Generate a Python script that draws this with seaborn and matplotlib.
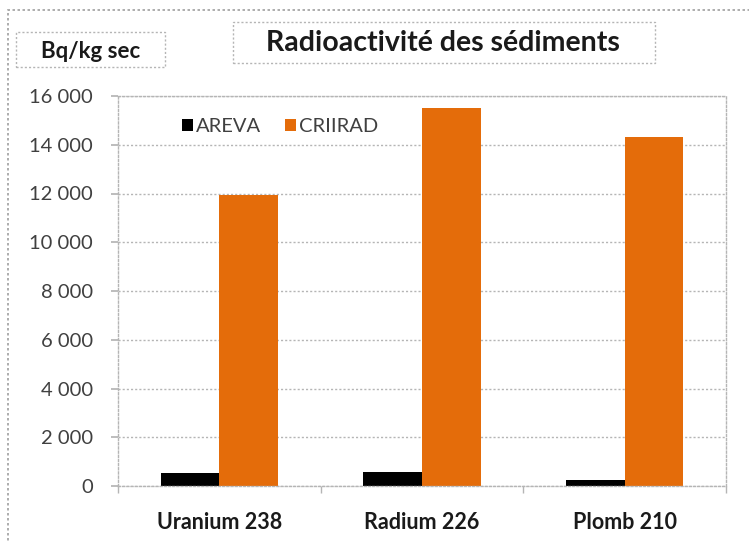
import numpy as np
import pandas as pd
import matplotlib
matplotlib.use('Agg')
import matplotlib.pyplot as plt
import seaborn as sns
from matplotlib.patches import Rectangle
from matplotlib.ticker import FuncFormatter, MultipleLocator, FixedLocator

# Données (Bq/kg sec)
elements = ['Uranium 238', 'Radium 226', 'Plomb 210']
sources = ['AREVA', 'CRIIRAD']
areva = [550, 590, 250]
criirad = [11950, 15500, 14300]
couleurs = ['#000000', '#E46C0A']

df = pd.DataFrame({
    'Element': elements * 2,
    'Source': ['AREVA'] * 3 + ['CRIIRAD'] * 3,
    'Valeur': areva + criirad,
})

sns.set_theme(style='white')
plt.rcParams['font.family'] = ['Lato', 'DejaVu Sans']

fig = plt.figure(figsize=(7.49, 5.43), dpi=100)
ax = fig.add_axes([118/749, 1-486/543, 608/749, 390/543])

sns.barplot(data=df, x='Element', y='Valeur', hue='Source', palette=couleurs,
            width=0.58, ax=ax, saturation=1, linewidth=0)

ax.set_ylim(0, 16000)
ax.set_xlim(-0.5, 2.5)
ax.yaxis.set_major_locator(MultipleLocator(2000))
ax.yaxis.set_major_formatter(FuncFormatter(lambda v, p: '{:,}'.format(int(v)).replace(',', ' ')))
ax.grid(axis='y', color='#b5b5b5', linestyle=(0, (1.5, 1.5)), linewidth=1)
ax.set_axisbelow(True)
for s in ax.spines.values():
    s.set_color('#b5b5b5')
    s.set_linestyle((0, (1.5, 1.5)))
    s.set_linewidth(1)
ax.set_xlabel('')
ax.set_ylabel('')

ax.tick_params(axis='y', which='major', left=True, length=5, color='#b5b5b5',
               labelsize=14.5, labelcolor='#404040', pad=13)
ax.tick_params(axis='x', which='major', bottom=False, labelsize=15.5, pad=13)
ax.xaxis.set_minor_locator(FixedLocator([-0.5, 0.5, 1.5, 2.5]))
ax.tick_params(axis='x', which='minor', bottom=True, length=5, color='#b5b5b5')
for lab in ax.get_xticklabels():
    lab.set_fontweight('bold')
    lab.set_color('#1a1a1a')

leg = ax.legend(loc='upper left', bbox_to_anchor=(0.075, 0.99), ncol=2, frameon=False,
                fontsize=14.5, handlelength=0.55, handleheight=0.55, handletextpad=0.15,
                columnspacing=1.2, labelcolor='#404040')

# cadre extérieur et boîtes de texte
fig.patches.append(Rectangle((8/749, -0.1), 1.2, 1 - 10/543 + 0.1, transform=fig.transFigure,
                             fill=False, ec='#a0a0a0', ls=(0, (1.5, 1.5)), lw=1.2))
fig.patches.append(Rectangle((233/749, 1-63/543), 422/749, 41/543, transform=fig.transFigure,
                             fill=False, ec='#b5b5b5', ls=(0, (1.5, 1.5)), lw=1))
fig.patches.append(Rectangle((16/749, 1-67/543), 149/749, 35/543, transform=fig.transFigure,
                             fill=False, ec='#b5b5b5', ls=(0, (1.5, 1.5)), lw=1))
fig.text(443/749, 1-43/543, 'Radioactivité des sédiments', ha='center', va='center',
         fontsize=20.5, fontweight='bold', color='#1a1a1a')
fig.text(91/749, 1-52/543, 'Bq/kg sec', ha='center', va='center',
         fontsize=16, fontweight='bold', color='#1a1a1a')

fig.savefig('out.png', dpi=100)
